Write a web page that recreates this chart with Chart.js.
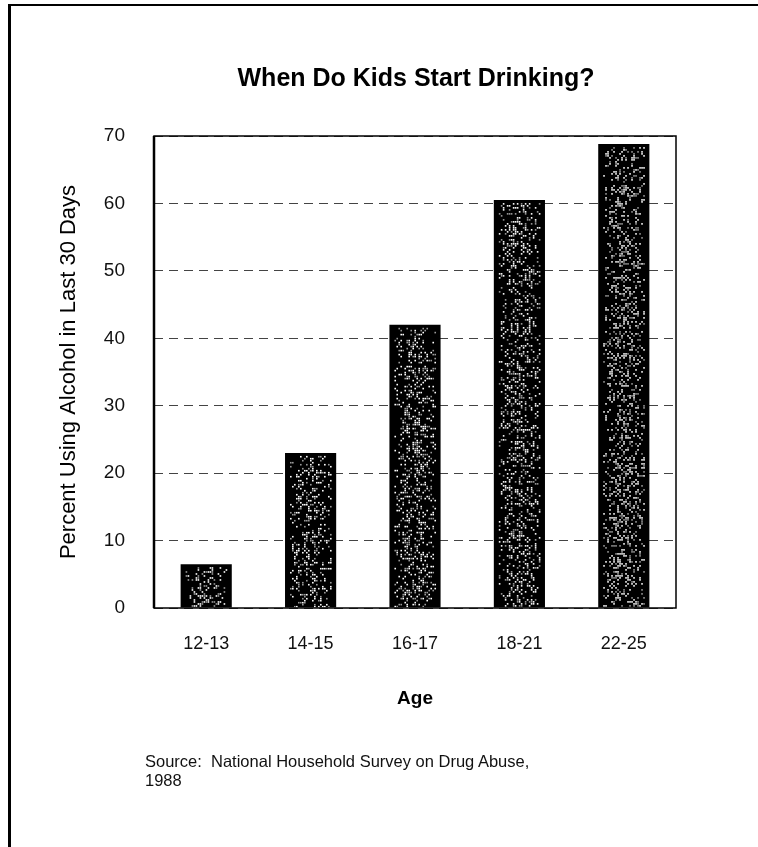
<!DOCTYPE html>
<html>
<head>
<meta charset="utf-8">
<script src="https://cdn.jsdelivr.net/npm/chart.js@4.4.0/dist/chart.umd.min.js"></script>
<style>
    html, body { margin: 0; padding: 0; background: #fff; }
    #page { position: relative; width: 758px; height: 847px; overflow: hidden; }
    #frame { position: absolute; left: 8px; top: 4px; right: -4px; bottom: -4px;
             border-top: 2px solid #000; border-left: 3px solid #000; }
    #wrap { position: absolute; left: 0; top: 0; width: 758px; height: 847px; }
    #title { position: absolute; left: 216px; width: 400px; top: 62px; text-align: center;
             font: bold 25px "Liberation Sans", Arial, sans-serif; line-height: 30px; color: #000; }
    #source { position: absolute; left: 145px; top: 752px; font: 16.5px "Liberation Sans", Arial, sans-serif;
              color: #111; line-height: 19px; }
</style>
</head>
<body>
<div id="page">
    <div id="frame"></div>
    <div id="wrap"><canvas id="kids-drinking"></canvas></div>
    <div id="title">When Do Kids Start Drinking?</div>
    <div id="source">Source:&nbsp; National Household Survey on Drug Abuse,<br>1988</div>
</div>
<script>
    "use strict";

    // Data
    var ageGroups = ["12-13", "14-15", "16-17", "18-21", "22-25"];
    var percentUsing = [6.5, 23, 42, 60.5, 68.8];
    var yTicks = [0, 10, 20, 30, 40, 50, 60, 70];

    var font = "'Liberation Sans', Arial, sans-serif";

    // Solid frame round the plot area
    var plotFrame = {
        id: "plotFrame",
        afterDraw: function (chart) {
            var a = chart.chartArea, c = chart.ctx;
            c.save();
            c.strokeStyle = "#000";
            c.lineWidth = 1.5;
            c.strokeRect(a.left, a.top, a.right - a.left, a.bottom - a.top);
            c.lineWidth = 2.5;
            c.beginPath();
            c.moveTo(a.left, a.top);
            c.lineTo(a.left, a.bottom);
            c.stroke();
            c.restore();
        }
    };

    // Speckled print texture on the bars (seeded, same every time)
    var speckle = {
        id: "speckle",
        afterDatasetsDraw: function (chart) {
            var c = chart.ctx;
            var seed = 12345;
            function rnd() {
                seed = (seed * 1103515245 + 12345) % 2147483648;
                return seed / 2147483648;
            }
            c.save();
            chart.getDatasetMeta(0).data.forEach(function (bar) {
                var p = bar.getProps(["x", "y", "base", "width"], true);
                var left = p.x - p.width / 2, half = p.width / 2;
                for (var yy = p.y + 3; yy < p.base - 1; yy += 2) {
                    for (var xx = left + 5; xx < left + p.width - 5; xx += 2) {
                        var d = Math.abs(xx - p.x) / half;
                        var prob = 0.32 * (1 - d * d);
                        if (rnd() < prob) {
                            c.fillStyle = rnd() < 0.6 ? "#fff" : "#999";
                            c.fillRect(xx, yy, 1.6, 1.6);
                        }
                    }
                }
            });
            c.restore();
        }
    };

    var ctx = document.getElementById("kids-drinking").getContext("2d");
    var myChart = new Chart(ctx, {
        type: "bar",
        data: {
            labels: ageGroups,
            datasets: [{
                label: "Percent Using Alcohol in Last 30 Days",
                data: percentUsing,
                backgroundColor: "#000",
                borderWidth: 0,
                categoryPercentage: 1,
                barPercentage: 0.49
            }]
        },
        options: {
            responsive: true,
            maintainAspectRatio: false,
            animation: false,
            layout: { padding: { left: 0, right: 82, top: 136, bottom: 127 } },
            plugins: {
                legend: { display: false },
                tooltip: { enabled: false },
                title: { display: false }
            },
            scales: {
                x: {
                    afterFit: function (axis) { axis.height = 112; },
                    grid: { display: false, drawTicks: false },
                    border: { display: false },
                    ticks: { color: "#111", font: { family: font, size: 18 }, padding: 25 },
                    title: {
                        display: true,
                        text: "Age",
                        color: "#000",
                        font: { family: font, size: 19, weight: "bold" },
                        padding: { top: 4, bottom: 10 }
                    }
                },
                y: {
                    min: 0,
                    max: 70,
                    afterFit: function (axis) { axis.width = 154; },
                    afterBuildTicks: function (axis) {
                        axis.ticks = yTicks.map(function (v) { return { value: v }; });
                    },
                    grid: { color: "#444", lineWidth: 1, drawTicks: false },
                    border: { display: false, dash: [9, 6] },
                    ticks: { color: "#111", font: { family: font, size: 19 }, padding: 29 },
                    title: {
                        display: true,
                        text: "Percent Using Alcohol in Last 30 Days",
                        color: "#000",
                        font: { family: font, size: 22 },
                        padding: { top: 56, bottom: 4 }
                    }
                }
            }
        },
        plugins: [speckle, plotFrame]
    });
</script>
</body>
</html>
